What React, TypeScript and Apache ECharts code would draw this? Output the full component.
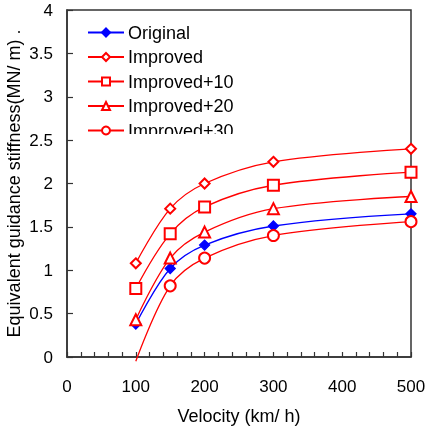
import React, { useEffect, useRef } from "react";
import * as echarts from "echarts";

const velocity = [100, 150, 200, 300, 500];
const original = [0.38, 1.02, 1.29, 1.51, 1.65];
const improved = [1.08, 1.71, 2.0, 2.25, 2.4];
const improved10 = [0.79, 1.42, 1.73, 1.98, 2.13];
const improved20 = [0.43, 1.14, 1.44, 1.71, 1.85];
const improved30 = [-0.05, 0.82, 1.14, 1.4, 1.56];
const yTicks = [0, 0.5, 1, 1.5, 2, 2.5, 3, 3.5, 4];
const xTicks = [0, 100, 200, 300, 400, 500];

const FONT = 'Arial, "Liberation Sans", sans-serif';

export default function App() {
  const ref = useRef<HTMLDivElement>(null);
  useEffect(() => {
    if (!ref.current) return;
    const chart = echarts.init(ref.current, undefined, { renderer: "svg" });
    const mk = (name: string, vals: number[], color: string, symbol: string, size: number, hideFirstBelowZero = false) => ({
      name,
      type: "line",
      smooth: 0.35,
      clip: false,
      symbol,
      symbolSize: size,
      showAllSymbol: true,
      lineStyle: { color, width: 1.3 },
      itemStyle: { color, borderColor: color, borderWidth: 1.3 },
      data: velocity.map((v, i) =>
        hideFirstBelowZero && vals[i] < 0 ? { value: [v, vals[i]], symbol: "none" } : { value: [v, vals[i]] }
      ),
    });
    chart.setOption({
      animation: false,
      textStyle: { fontFamily: FONT },
      grid: {
        left: 67, right: 17, top: 10, bottom: 75,
        outerBoundsMode: "none", containLabel: false,
        show: true, borderColor: "#333", borderWidth: 1.5, backgroundColor: "transparent",
      },
      legend: {
        orient: "vertical",
        left: 87,
        top: 23,
        padding: 0,
        itemWidth: 36,
        itemHeight: 10,
        itemGap: 5.5,
        textStyle: { fontSize: 18, lineHeight: 19, color: "#000", fontFamily: FONT, padding: [0, 0, 0, -1] },
        data: ["Original", "Improved", "Improved+10", "Improved+20", "Improved+30"],
      },
      xAxis: {
        type: "value",
        min: xTicks[0],
        max: xTicks[xTicks.length - 1],
        interval: 100,
        name: "Velocity (km/ h)",
        nameLocation: "middle",
        nameGap: 50,
        nameMoveOverlap: false,
        nameTextStyle: { fontSize: 18, color: "#000", fontFamily: FONT },
        axisLine: { lineStyle: { color: "#333", width: 1.5 } },
        axisTick: { inside: true, length: 5, lineStyle: { color: "#333", width: 1.2 } },
        minorTick: { show: true, splitNumber: 5, length: 5, lineStyle: { color: "#333", width: 1.2 } },
        axisLabel: { fontSize: 17, color: "#000", margin: 21, fontFamily: FONT },
        splitLine: { show: false },
      },
      yAxis: {
        type: "value",
        min: yTicks[0],
        max: yTicks[yTicks.length - 1],
        interval: 0.5,
        name: "Equivalent guidance stiffness(MN/ m) .",
        nameLocation: "middle",
        nameGap: 44,
        nameMoveOverlap: false,
        nameTextStyle: { fontSize: 18, color: "#000", fontFamily: FONT },
        axisLine: { show: true, lineStyle: { color: "#333", width: 1.5 } },
        axisTick: { show: true, inside: true, length: 6, lineStyle: { color: "#333", width: 1.2 } },
        axisLabel: { fontSize: 17, color: "#000", margin: 14, fontFamily: FONT },
        splitLine: { show: false },
      },
      graphic: [
        { type: "rect", z: 1000, zlevel: 1, shape: { x: 125, y: 134, width: 135, height: 10 }, style: { fill: "#fff" } },
      ],
      series: [
        mk("Original", original, "#0000ff", "diamond", 10),
        mk("Improved", improved, "#ff0000", "emptyDiamond", 10),
        mk("Improved+10", improved10, "#ff0000", "emptyRect", 11),
        mk("Improved+20", improved20, "#ff0000", "emptyTriangle", 11),
        mk("Improved+30", improved30, "#ff0000", "emptyCircle", 11, true),
      ],
    });
    return () => chart.dispose();
  }, []);
  return <div ref={ref} style={{ position: "fixed", left: 0, top: 0, width: 428, height: 432 }} />;
}
